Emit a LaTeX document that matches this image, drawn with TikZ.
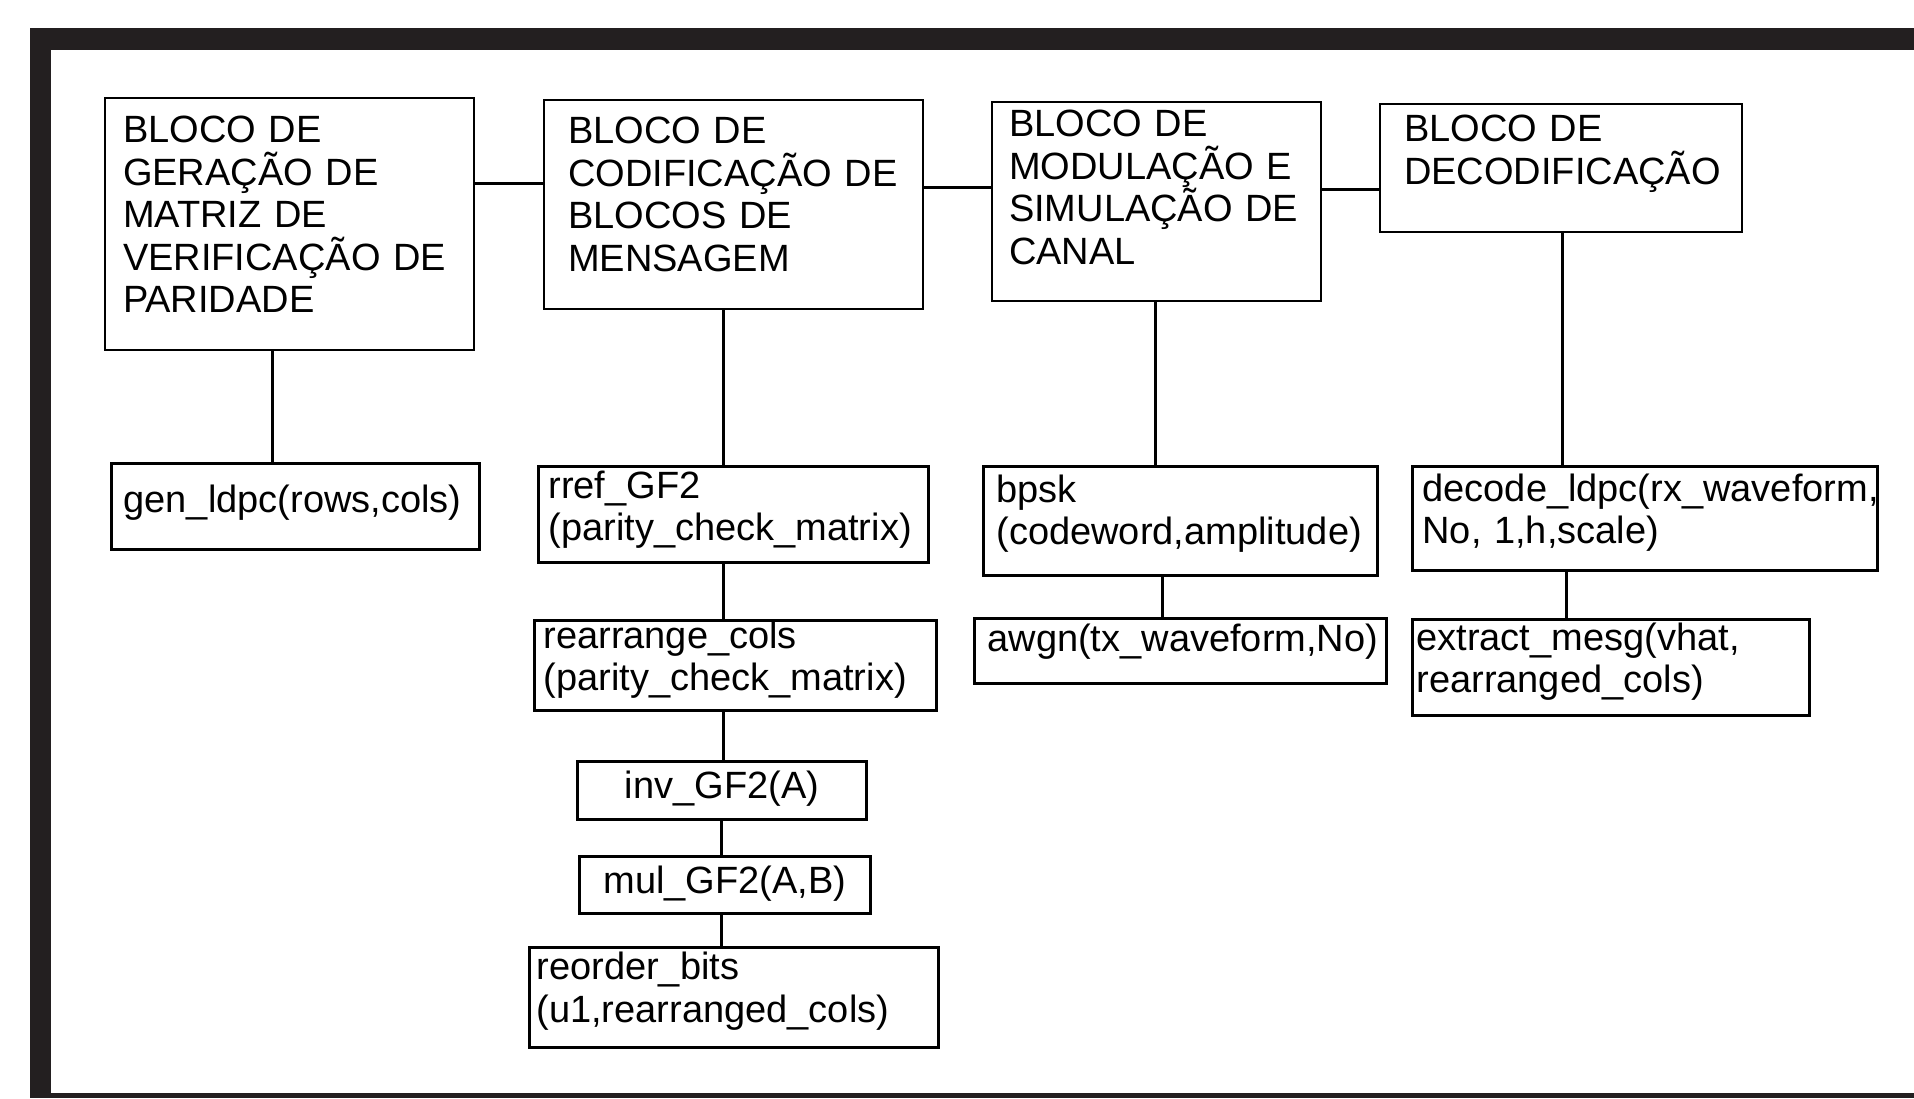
\documentclass[tikz,border=0pt]{standalone}
\usepackage{fontspec}
\setmainfont{Liberation Sans}
\hyphenpenalty=10000
\exhyphenpenalty=10000
\definecolor{framecol}{RGB}{35,31,32}

\begin{document}
\begin{tikzpicture}[x=0.5pt, y=-0.5pt,
    blk/.style={draw, anchor=north west, align=left, inner ysep=0pt,
        font=\fontsize{19}{21.2}\selectfont},
    topblk/.style={blk, line width=1pt},
    fnblk/.style={blk, line width=1.5pt},
    link/.style={line width=1.5pt}]
    \useasboundingbox[fill=white] (0,0) rectangle (1914,1098);

    % moldura
    \fill[framecol] (30,28) rectangle (1914,50);
    \fill[framecol] (30,28) rectangle (51,1098);
    \fill[framecol] (30,1093) rectangle (1914,1098);

    % blocos principais
    \node[topblk, inner xsep=9pt, text width=166.5pt, text height=22.4pt, text depth=103.6pt]
        (gerar) at (104,97) {BLOCO DE\\GERAÇÃO DE\\MATRIZ DE\\VERIFICAÇÃO DE\\PARIDADE};
    \node[topblk, inner xsep=12pt, text width=165.5pt, text height=21.9pt, text depth=82.6pt]
        (codif) at (543,99) {BLOCO DE\\CODIFICAÇÃO DE\\BLOCOS DE\\MENSAGEM};
    \node[topblk, inner xsep=8.5pt, text width=147.5pt, text height=17.4pt, text depth=82.1pt]
        (modul) at (991,101) {BLOCO DE\\MODULAÇÃO E\\SIMULAÇÃO DE\\CANAL};
    \node[topblk, inner xsep=12pt, text width=157pt, text height=18.8pt, text depth=45.2pt]
        (decod) at (1379,103) {BLOCO DE\\DECODIFICAÇÃO};

    % funcoes
    \node[fnblk, inner xsep=6pt, text width=172pt, text height=24.3pt, text depth=18.7pt]
        (genldpc) at (110,462) {gen\_ldpc(rows,cols)};
    \node[fnblk, inner xsep=5pt, text width=185pt, text height=15.8pt, text depth=32.2pt]
        (rref) at (537,465) {rref\_GF2\\(parity\_check\_matrix)};
    \node[fnblk, inner xsep=4.5pt, text width=192pt, text height=13.9pt, text depth=31.1pt]
        (rearr) at (533,619) {rearrange\_cols\\(parity\_check\_matrix)};
    \node[fnblk, align=center, inner xsep=5pt, text width=134.5pt, text height=18.4pt, text depth=10.6pt]
        (inv) at (576,760) {inv\_GF2(A)};
    \node[fnblk, align=center, inner xsep=5pt, text width=135.5pt, text height=18.4pt, text depth=10.1pt]
        (mul) at (578,855) {mul\_GF2(A,B)};
    \node[fnblk, inner xsep=3.5pt, text width=197.5pt, text height=16.1pt, text depth=33.9pt]
        (reord) at (528,946) {reorder\_bits\\(u1,rearranged\_cols)};
    \node[fnblk, inner xsep=6.5pt, text width=184pt, text height=17.8pt, text depth=36.7pt]
        (bpsk) at (982,465) {bpsk\\(codeword,amplitude)};
    \node[fnblk, inner xsep=6.5pt, text width=193pt, text height=16.4pt, text depth=16.1pt]
        (awgn) at (973,617) {awgn(tx\_waveform,No)};
    \node[fnblk, inner xsep=5pt, text width=222.5pt, text height=17.4pt, text depth=34.6pt]
        (decldpc) at (1411,465) {decode\_ldpc(rx\_waveform,\\No, 1,h,scale)};
    \node[fnblk, inner xsep=2pt, text width=194.5pt, text height=15.3pt, text depth=32.7pt]
        (extr) at (1411,618) {extract\_mesg(vhat,\\rearranged\_cols)};

    % ligacoes entre blocos
    \draw[link] (gerar.east |- 0,183) -- (codif.west |- 0,183);
    \draw[link] (codif.east |- 0,187) -- (modul.west |- 0,187);
    \draw[link] (modul.east |- 0,189) -- (decod.west |- 0,189);

    % ligacoes verticais
    \draw[link] (gerar.south -| 272,0) -- (genldpc.north -| 272,0);
    \draw[link] (codif.south -| 723,0) -- (rref.north -| 723,0);
    \draw[link] (rref.south -| 723,0) -- (rearr.north -| 723,0);
    \draw[link] (rearr.south -| 723,0) -- (inv.north -| 723,0);
    \draw[link] (inv.south -| 721,0) -- (mul.north -| 721,0);
    \draw[link] (mul.south -| 721,0) -- (reord.north -| 721,0);
    \draw[link] (modul.south -| 1155,0) -- (bpsk.north -| 1155,0);
    \draw[link] (bpsk.south -| 1162,0) -- (awgn.north -| 1162,0);
    \draw[link] (decod.south -| 1562,0) -- (decldpc.north -| 1562,0);
    \draw[link] (decldpc.south -| 1566,0) -- (extr.north -| 1566,0);
\end{tikzpicture}
\end{document}
